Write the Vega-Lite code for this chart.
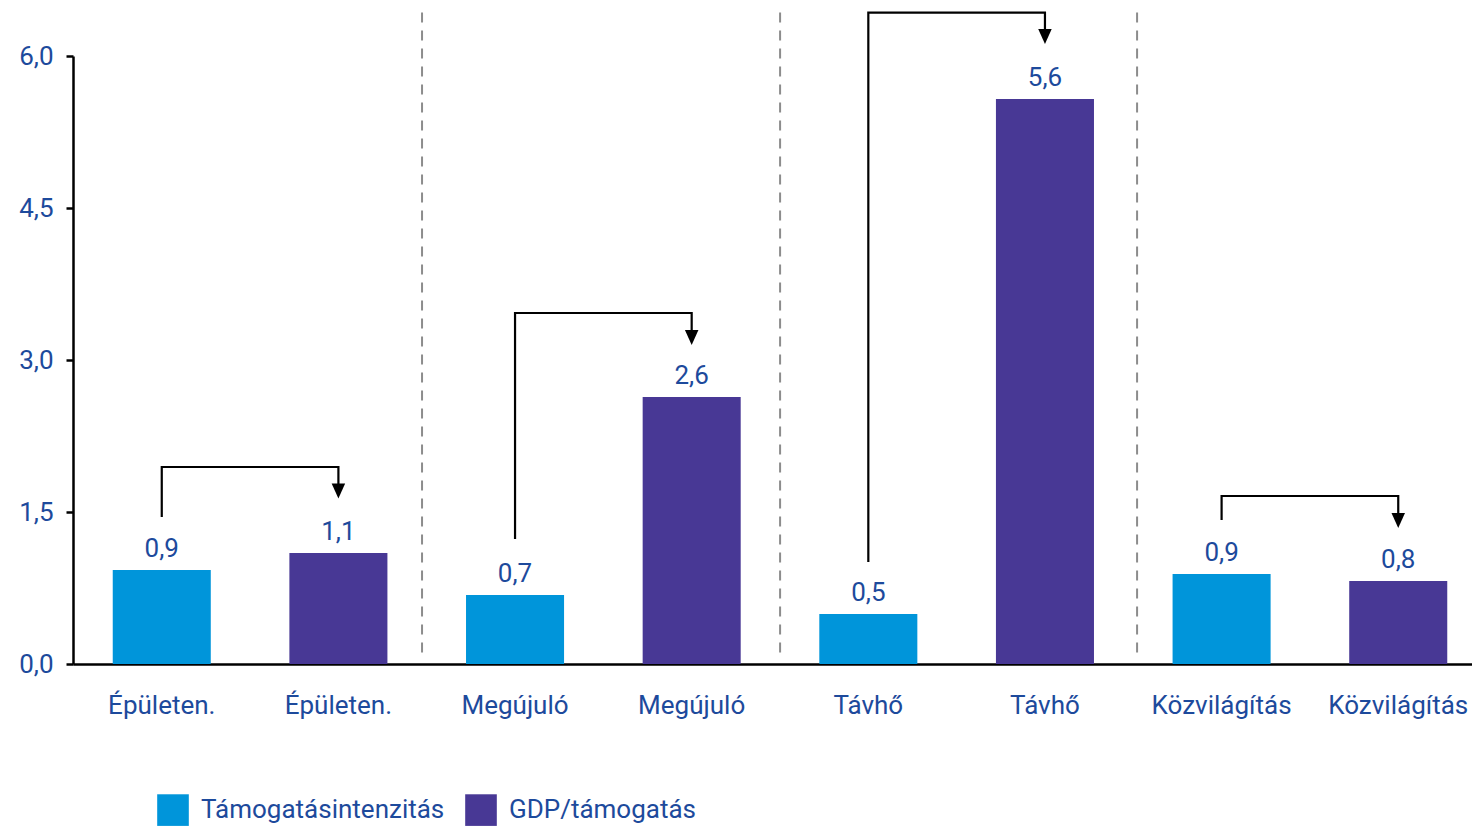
{
  "$schema": "https://vega.github.io/schema/vega-lite/v6.json",
  "width": 1414,
  "height": 608,
  "autosize": {"type": "none"},
  "padding": {"left": 73, "top": 56, "right": 0, "bottom": 169},
  "config": {
    "locale": {"number": {"decimal": ",", "thousands": " ", "grouping": [3], "currency": ["", " Ft"]}},
    "font": "Roboto",
    "view": {"stroke": null}
  },
  "datasets": {
    "bars": [
      {"key": "Épületen.|1", "value": 0.928, "series": "Támogatásintenzitás"},
      {"key": "Épületen.|2", "value": 1.095, "series": "GDP/támogatás"},
      {"key": "Megújuló|1", "value": 0.681, "series": "Támogatásintenzitás"},
      {"key": "Megújuló|2", "value": 2.635, "series": "GDP/támogatás"},
      {"key": "Távhő|1", "value": 0.493, "series": "Támogatásintenzitás"},
      {"key": "Távhő|2", "value": 5.576, "series": "GDP/támogatás"},
      {"key": "Közvilágítás|1", "value": 0.888, "series": "Támogatásintenzitás"},
      {"key": "Közvilágítás|2", "value": 0.819, "series": "GDP/támogatás"}
    ],
    "arrows": [
      {"pair": 1, "seq": 1, "key": "Épületen.|1", "y": 1.451},
      {"pair": 1, "seq": 2, "key": "Épületen.|1", "y": 1.944},
      {"pair": 1, "seq": 3, "key": "Épületen.|2", "y": 1.944},
      {"pair": 1, "seq": 4, "key": "Épületen.|2", "y": 1.72},
      {"pair": 2, "seq": 1, "key": "Megújuló|1", "y": 1.234},
      {"pair": 2, "seq": 2, "key": "Megújuló|1", "y": 3.464},
      {"pair": 2, "seq": 3, "key": "Megújuló|2", "y": 3.464},
      {"pair": 2, "seq": 4, "key": "Megújuló|2", "y": 3.24},
      {"pair": 3, "seq": 1, "key": "Távhő|1", "y": 1.007},
      {"pair": 3, "seq": 2, "key": "Távhő|1", "y": 6.429},
      {"pair": 3, "seq": 3, "key": "Távhő|2", "y": 6.429},
      {"pair": 3, "seq": 4, "key": "Távhő|2", "y": 6.2},
      {"pair": 4, "seq": 1, "key": "Közvilágítás|1", "y": 1.421},
      {"pair": 4, "seq": 2, "key": "Közvilágítás|1", "y": 1.658},
      {"pair": 4, "seq": 3, "key": "Közvilágítás|2", "y": 1.658},
      {"pair": 4, "seq": 4, "key": "Közvilágítás|2", "y": 1.43}
    ],
    "heads": [
      {"key": "Épületen.|2", "y": 1.707},
      {"key": "Megújuló|2", "y": 3.222},
      {"key": "Távhő|2", "y": 6.193},
      {"key": "Közvilágítás|2", "y": 1.416}
    ],
    "seps": [
      {"pos": 1.976},
      {"pos": 4.003},
      {"pos": 6.024}
    ]
  },
  "resolve": {"scale": {"x": "independent"}},
  "layer": [
    {
      "layer": [
        {
          "data": {"name": "bars"},
          "mark": {"type": "bar"},
          "encoding": {
            "x": {
              "field": "key", "type": "nominal", "sort": null,
              "scale": {"domain": ["Épületen.|1", "Épületen.|2", "Megújuló|1", "Megújuló|2", "Távhő|1", "Távhő|2", "Közvilágítás|1", "Közvilágítás|2"], "paddingInner": 0.445, "paddingOuter": 0.225},
              "axis": {
                "title": null, "labelAngle": 0, "ticks": false,
                "labelExpr": "split(datum.value, '|')[0]",
                "labelFontSize": 26, "labelColor": "#1d4a9c", "labelPadding": 28,
                "domainColor": "#000000", "domainWidth": 2.5
              }
            },
            "y": {
              "field": "value", "type": "quantitative",
              "scale": {"domain": [0, 6]},
              "axis": {
                "title": null, "values": [0, 1.5, 3, 4.5, 6], "format": ".1f", "grid": false,
                "labelFontSize": 26, "labelColor": "#1d4a9c", "labelPadding": 13,
                "tickSize": 7, "tickColor": "#000000", "tickWidth": 2.5,
                "domainColor": "#000000", "domainWidth": 2.5
              }
            },
            "color": {
              "field": "series", "type": "nominal",
              "scale": {"domain": ["Támogatásintenzitás", "GDP/támogatás"], "range": ["#0095da", "#483895"]},
              "legend": {
                "title": null, "orient": "none", "direction": "horizontal",
                "legendX": 84, "legendY": 738,
                "symbolType": "square", "symbolSize": 1000, "symbolStrokeWidth": 0, "symbolOpacity": 1,
                "labelFontSize": 26, "labelColor": "#1d4a9c", "labelOffset": 12, "labelLimit": 0, "columnPadding": 20
              }
            }
          }
        },
        {
          "data": {"name": "bars"},
          "mark": {"type": "text", "dy": -13, "baseline": "alphabetic", "fontSize": 26, "color": "#1d4a9c"},
          "encoding": {
            "x": {"field": "key", "type": "nominal", "sort": null},
            "y": {"field": "value", "type": "quantitative"},
            "text": {"field": "value", "type": "quantitative", "format": ".1f"}
          }
        },
        {
          "data": {"name": "arrows"},
          "mark": {"type": "line", "color": "#000000", "strokeWidth": 2.2, "strokeJoin": "miter"},
          "encoding": {
            "x": {"field": "key", "type": "nominal", "sort": null},
            "y": {"field": "y", "type": "quantitative"},
            "detail": {"field": "pair", "type": "nominal"},
            "order": {"field": "seq", "type": "quantitative"}
          }
        },
        {
          "data": {"name": "heads"},
          "mark": {"type": "point", "shape": "M -0.9 -1 L 0.9 -1 L 0 1 Z", "filled": true, "color": "#000000", "opacity": 1, "size": 225},
          "encoding": {
            "x": {"field": "key", "type": "nominal", "sort": null},
            "y": {"field": "y", "type": "quantitative"}
          }
        }
      ]
    },
    {
      "data": {"name": "seps"},
      "mark": {"type": "rule", "color": "#8c8c8c", "strokeWidth": 2, "strokeDash": [10, 8]},
      "encoding": {
        "x": {"field": "pos", "type": "quantitative", "scale": {"domain": [0, 8.005], "nice": false, "zero": false}, "axis": null},
        "y": {"datum": 6.43, "type": "quantitative"},
        "y2": {"datum": 0.07}
      }
    }
  ]
}
